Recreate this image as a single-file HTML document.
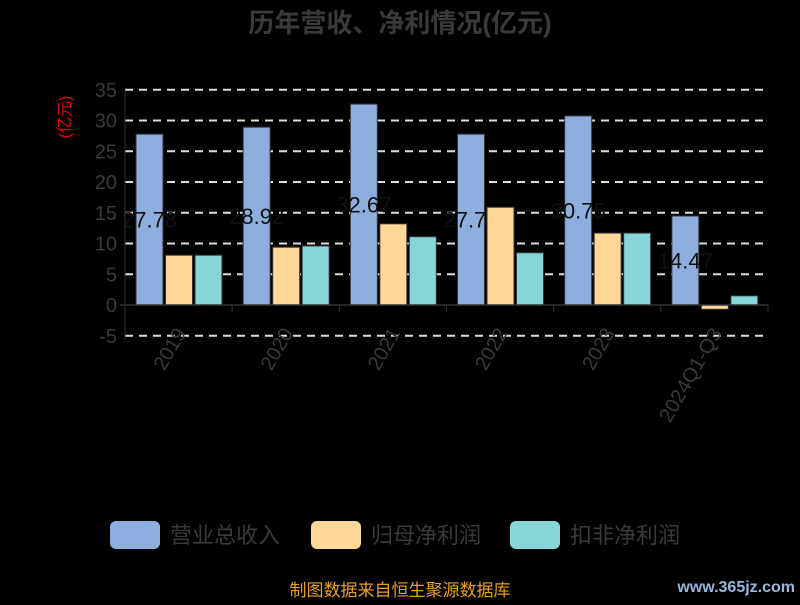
<!DOCTYPE html>
<html><head><meta charset="utf-8"><style>
body{margin:0;background:#000;width:800px;height:600px;overflow:hidden;font-family:"Liberation Sans","Noto Sans CJK SC",sans-serif}
</style></head><body>
<svg width="800" height="600" xmlns="http://www.w3.org/2000/svg">
<text x="400" y="32" text-anchor="middle" font-size="26" font-weight="bold" fill="#3a3a3a" font-family="Liberation Sans,Noto Sans CJK SC,sans-serif">历年营收、净利情况(亿元)</text>
<text transform="translate(70,117) rotate(-90)" text-anchor="middle" font-size="16" fill="#e00" font-family="Liberation Sans,Noto Sans CJK SC,sans-serif">(亿元)</text>
<g id="grid"></g><g id="bars"></g><g id="axes"></g>
<g font-size="22" fill="#3a3a3a" font-family="Liberation Sans,Noto Sans CJK SC,sans-serif">
<rect x="110" y="521" width="50" height="28" rx="6" fill="#8eaedd"/>
<text x="170" y="543">营业总收入</text>
<rect x="311" y="521" width="50" height="28" rx="6" fill="#ffd898"/>
<text x="371" y="543">归母净利润</text>
<rect x="510" y="521" width="50" height="28" rx="6" fill="#86d5d9"/>
<text x="570" y="543">扣非净利润</text>
</g>
<text x="400" y="596" text-anchor="middle" font-size="17" fill="#e8a020" font-family="Liberation Sans,Noto Sans CJK SC,sans-serif">制图数据来自恒生聚源数据库</text>
<text x="795" y="592" text-anchor="end" font-size="16" font-weight="bold" fill="#9ab8dd" font-family="Liberation Sans,sans-serif">www.365jz.com</text>
</svg>
<script>
const categories=["2019","2020","2021","2022","2023","2024Q1-Q3"];
const revenue=[27.78,28.92,32.67,27.78,30.75,14.47];
const netProfit=[8.1,9.4,13.2,15.9,11.7,-0.7];
const deducted=[8.1,9.6,11.1,8.5,11.7,1.5];
const ticks=[-5,0,5,10,15,20,25,30,35];
const NS="http://www.w3.org/2000/svg";
const x0=125,x1=768,yZero=305,pxPer=6.15;
const y=v=>yZero-v*pxPer;
const cw=(x1-x0)/categories.length;
function mk(tag,attrs,parent){const e=document.createElementNS(NS,tag);for(const k in attrs)e.setAttribute(k,attrs[k]);document.getElementById(parent).appendChild(e);return e;}
ticks.forEach(t=>{
 if(t!==0){const l=mk('line',{x1:x0,x2:x1,y1:y(t),y2:y(t),stroke:'#ddd','stroke-width':2,'stroke-dasharray':'8,6'},'grid');
 
 }
 const tx=mk('text',{x:x0-8,y:y(t)+7,'text-anchor':'end','font-size':20,fill:'#3a3a3a','font-family':'Liberation Sans,sans-serif'},'axes');
 tx.textContent=t;
 
 
});
const ax=mk('line',{x1:x0,x2:x0,y1:y(35),y2:y(-5)+4,stroke:'#333','stroke-width':1},'axes');


const xa=mk('line',{x1:x0-5,x2:x1,y1:yZero,y2:yZero,stroke:'#333','stroke-width':1.5},'axes');


const series=[[revenue,'#8eaedd','bar-revenue'],[netProfit,'#ffd898','bar-netprofit'],[deducted,'#86d5d9','bar-deducted']];
const bw=27,gap=2.5;
categories.forEach((c,i)=>{
 const start=x0+i*cw+11;
 const tk=mk('line',{x1:x0+(i+1)*cw,x2:x0+(i+1)*cw,y1:yZero,y2:yZero+7,stroke:'#333'},'axes');
 
 
 const cx=x0+i*cw+cw/2+8;
 const lb=mk('text',{x:0,y:0,'text-anchor':'end','font-size':20,fill:'#3a3a3a','font-family':'Liberation Sans,sans-serif',transform:`translate(${cx},${yZero+28}) rotate(-60)`},'axes');
 lb.textContent=c;
 
 
 series.forEach((s,j)=>{
  const v=s[0][i];const bx=start+j*(bw+gap);
  const r=mk('rect',{x:bx,y:Math.min(y(v),yZero),width:bw,height:Math.abs(y(v)-yZero),fill:s[1],stroke:'#333','stroke-width':1},'bars');
  
  
  if(j===0){
   const t=mk('text',{x:bx+bw/2,y:(y(v)+yZero)/2+8,'text-anchor':'middle','font-size':22,fill:'#111','font-family':'Liberation Sans,sans-serif'},'bars');
   t.textContent=v.toFixed(2);
   
   
  }
 });
});
</script>
</body></html>
